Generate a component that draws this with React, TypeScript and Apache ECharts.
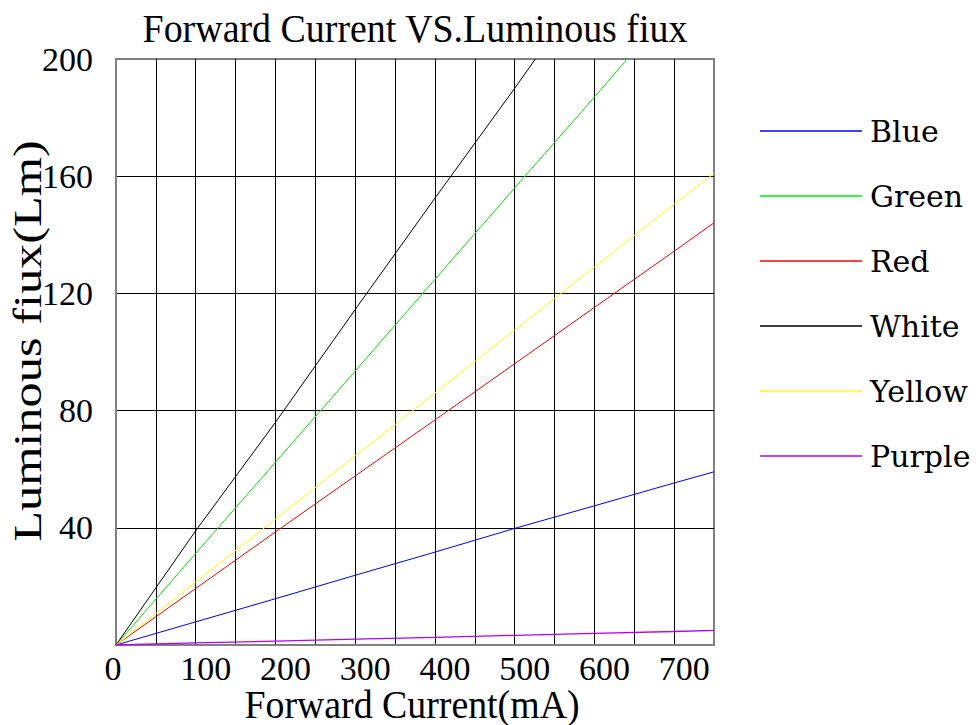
import React, { useEffect, useRef } from "react";
import * as echarts from "echarts";

// Forward current (mA) sample points
const current = [0, 100, 200, 300, 400, 500, 600, 700, 750];
const blue = [0, 7.9, 15.8, 23.8, 31.7, 39.8, 47.5, 55.3, 59.1];
const red = [0, 19.3, 38.6, 57.7, 76.8, 96, 115.2, 134.4, 144.1];
const yellow = [0, 21.5, 43, 64.5, 86, 107.5, 129, 150.5, 161];
const purple = [0, 0.7, 1.3, 2.0, 2.6, 3.3, 4.0, 4.6, 5.0];
const greenCurrent = [0, 100, 200, 300, 400, 500, 600, 641];
const green = [0, 31.3, 62.4, 93.5, 124.8, 156, 187, 200];
const whiteCurrent = [0, 100, 200, 300, 400, 500, 526];
const white = [0, 39, 76, 114.5, 152.5, 190, 200];

const seriesNames = ["Blue", "Green", "Red", "White", "Yellow", "Purple"];
const seriesColors = ["#0000ff", "#00ee00", "#ff0000", "#000000", "#ffff00", "#b400ff"];

const titleText = "Forward Current VS.Luminous fiux";
const xName = "Forward Current(mA)";
const yName = "Luminous fiux(Lm)";

const SERIF = "Liberation Serif";
const LEGEND_FONT = "DejaVu Serif";

function pairs(xs: number[], ys: number[]) {
  return xs.map((x, i) => [x, ys[i]]);
}

export default function App() {
  const ref = useRef<HTMLDivElement>(null);
  useEffect(() => {
    if (!ref.current) return;
    const chart = echarts.init(ref.current, undefined, { renderer: "svg" });
    const dataSets = [
      pairs(current, blue),
      pairs(greenCurrent, green),
      pairs(current, red),
      pairs(whiteCurrent, white),
      pairs(current, yellow),
      pairs(current, purple),
    ];
    chart.setOption({
      animation: false,
      backgroundColor: "#ffffff",
      grid: {
        left: 116,
        right: 263,
        top: 59,
        bottom: 80,
        show: true,
        borderColor: "#808080",
        borderWidth: 2,
        containLabel: false,
      },
      xAxis: {
        type: "value",
        min: 0,
        max: 750,
        interval: 50,
        axisLine: { show: true, lineStyle: { color: "#808080", width: 2 } },
        axisTick: { show: false },
        splitLine: {
          show: true,
          showMinLine: false,
          showMaxLine: false,
          lineStyle: { color: "#000000", width: 1 },
        },
        axisLabel: {
          margin: 6,
          color: "#000",
          fontFamily: SERIF,
          fontSize: 34,
          showMaxLabel: false,
          formatter: (v: number) =>
            v % 100 !== 0 ? "" : v === 0 ? "{z|0}" : `{s|${v}}`,
          rich: {
            s: { fontFamily: SERIF, fontSize: 34, color: "#000", padding: [0, 0, 0, 20] },
            z: { fontFamily: SERIF, fontSize: 34, color: "#000", padding: [0, 6, 0, 0] },
          },
        },
      },
      yAxis: {
        type: "value",
        min: 0,
        max: 200,
        interval: 40,
        axisLine: { show: true, lineStyle: { color: "#808080", width: 2 } },
        axisTick: { show: false },
        splitLine: {
          show: true,
          showMinLine: false,
          showMaxLine: false,
          lineStyle: { color: "#000000", width: 1 },
        },
        axisLabel: {
          margin: 23,
          color: "#000",
          fontFamily: SERIF,
          fontSize: 34,
          formatter: (v: number) => (v === 0 ? "" : String(v)),
        },
      },
      legend: {
        orient: "vertical",
        left: 760,
        top: 116,
        padding: 0,
        icon: "rect",
        itemWidth: 102,
        itemHeight: 1.5,
        itemGap: 35,
        data: seriesNames,
        itemStyle: { borderWidth: 0 },
        textStyle: {
          fontFamily: LEGEND_FONT,
          fontSize: 30,
          lineHeight: 30,
          color: "#000",
          padding: [0, 0, 0, 3],
        },
      },
      series: seriesNames.map((name, i) => ({
        name,
        type: "line",
        data: dataSets[i],
        symbol: "none",
        clip: true,
        color: seriesColors[i],
        itemStyle: { color: seriesColors[i] },
        lineStyle: { color: seriesColors[i], width: name === "Purple" ? 1.3 : 1 },
      })),
      graphic: [
        {
          type: "text",
          x: 415,
          y: 29,
          scaleX: 0.925,
          style: {
            text: titleText,
            x: 0,
            y: 0,
            fontFamily: SERIF,
            fontSize: 41,
            fill: "#000",
            textAlign: "center",
            verticalAlign: "middle",
          },
        },
        {
          type: "text",
          x: 412,
          y: 704,
          scaleX: 0.946,
          style: {
            text: xName,
            x: 0,
            y: 0,
            fontFamily: SERIF,
            fontSize: 40,
            fill: "#000",
            textAlign: "center",
            verticalAlign: "middle",
          },
        },
        {
          type: "text",
          x: 27,
          y: 341,
          rotation: Math.PI / 2,
          scaleX: 1.26,
          style: {
            text: yName,
            x: 0,
            y: 0,
            fontFamily: SERIF,
            fontSize: 40,
            fill: "#000",
            textAlign: "center",
            verticalAlign: "middle",
          },
        },
      ],
    });
    return () => chart.dispose();
  }, []);
  return (
    <div
      ref={ref}
      style={{ position: "fixed", left: 0, top: 0, width: 977, height: 725, background: "#fff" }}
    />
  );
}
